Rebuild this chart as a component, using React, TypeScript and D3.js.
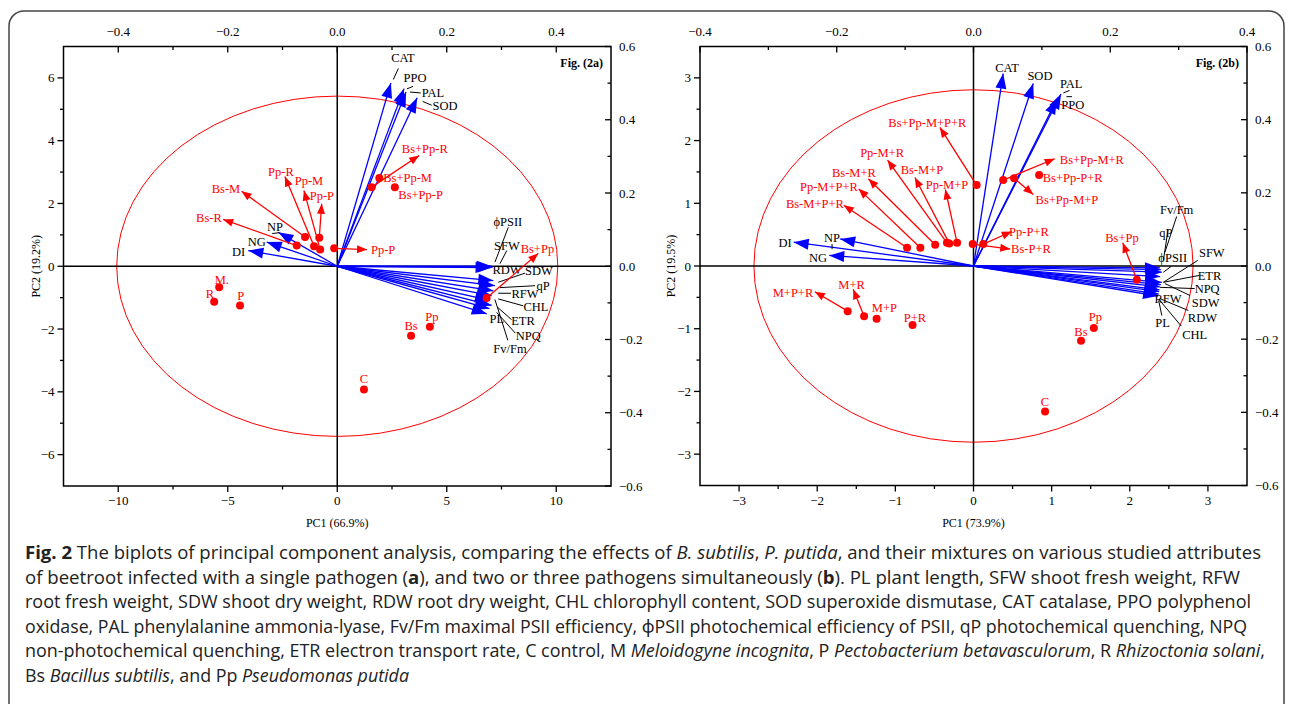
import React from 'react';
import * as d3 from 'd3';

// ---------------- Panel (a) data ----------------
const aVarNames = ['CAT', 'PPO', 'PAL', 'SOD', 'NP', 'NG', 'DI', 'ϕPSII', 'SFW', 'RDW', 'SDW', 'qP', 'RFW', 'CHL', 'ETR', 'PL', 'NPQ', 'Fv/Fm'];
const aVarPC1 = [0.098, 0.122, 0.1256, 0.146, -0.1076, -0.1288, -0.1624, 0.282, 0.28, 0.284, 0.285, 0.288, 0.285, 0.282, 0.279, 0.282, 0.278, 0.273];
const aVarPC2 = [0.5006, 0.485, 0.476, 0.46, 0.0926, 0.066, 0.0429, 0.0, -0.004, -0.002, -0.039, -0.053, -0.067, -0.08, -0.093, -0.107, -0.116, -0.13];
const aVarLabelX = [3.0, 3.55, 4.37, 4.92, -2.84, -3.67, -4.5, 7.79, 7.75, 7.75, 9.21, 9.4, 8.57, 9.07, 8.48, 7.29, 8.72, 7.89];
const aVarLabelY = [6.66, 6.02, 5.54, 5.13, 1.27, 0.77, 0.47, 1.43, 0.66, -0.11, -0.14, -0.62, -0.86, -1.28, -1.74, -1.67, -2.2, -2.62];
const aLeaders = [
  [2.56, 5.95, 2.79, 6.3], [3.18, 5.65, 3.46, 5.73], [3.32, 5.55, 3.81, 5.52], [3.9, 5.25, 4.31, 5.13],
  [-2.97, 1.04, -2.66, 1.07], [7.81, 1.24, 7.2, 0.13], [7.74, 0.5, 7.43, 0.08], [7.35, -0.51, 8.57, -0.22],
  [7.43, -0.68, 9.03, -0.62], [7.35, -0.86, 7.93, -0.86], [7.35, -1.04, 8.49, -1.26], [7.34, -1.32, 7.96, -1.7],
  [7.28, -1.47, 8.13, -2.13], [7.2, -1.06, 7.79, -2.36],
];
const aTreatNames = ['C', 'M.', 'R', 'P', 'Bs', 'Pp', 'Bs+Pp', 'Bs-M', 'Bs-R', 'Pp-R', 'Pp-M', 'Pp-P', 'Pp-P', 'Bs+Pp-R', 'Bs+Pp-M', 'Bs+Pp-P'];
const aTreatPC1 = [1.22, -5.39, -5.62, -4.44, 3.37, 4.23, 6.82, -1.47, -1.85, -1.06, -0.78, -0.82, -0.14, 1.57, 1.92, 2.63];
const aTreatPC2 = [-3.93, -0.67, -1.13, -1.25, -2.21, -1.93, -1.01, 0.93, 0.66, 0.64, 0.53, 0.91, 0.57, 2.52, 2.81, 2.52];
const aTreatTipX = [null, null, null, null, null, null, 9.18, -4.37, -5.21, -2.39, -1.52, -0.71, 1.36, 3.74, null, null];
const aTreatTipY = [null, null, null, null, null, null, 0.41, 2.39, 1.49, 2.86, 2.41, 1.99, 0.53, 3.53, null, null];
const aTreatLabelX = [1.22, -5.27, -5.81, -4.41, 3.37, 4.32, 9.14, -5.08, -5.86, -2.57, -1.29, -0.7, 1.54, 4.0, 2.1, 2.79];
const aTreatLabelY = [-3.59, -0.42, -0.86, -0.93, -1.89, -1.6, 0.57, 2.48, 1.55, 3.02, 2.73, 2.26, 0.53, 3.75, 2.82, 2.29];
const aTreatAnchor = ['m', 'm', 'm', 'm', 'm', 'm', 'm', 'm', 'm', 'm', 'm', 'm', 's', 'm', 's', 's'];

// ---------------- Panel (b) data ----------------
const bVarNames = ['CAT', 'SOD', 'PAL', 'PPO', 'DI', 'NP', 'NG', 'Fv/Fm', 'qP', 'ϕPSII', 'SFW', 'ETR', 'NPQ', 'SDW', 'RDW', 'CHL', 'RFW', 'PL'];
const bVarPC1 = [0.0434, 0.0874, 0.128, 0.122, -0.263, -0.195, -0.211, 0.2726, 0.274, 0.2754, 0.273, 0.2754, 0.274, 0.2726, 0.272, 0.2715, 0.271, 0.27];
const bVarPC2 = [0.526, 0.499, 0.47, 0.456, 0.065, 0.074, 0.029, -0.005, -0.01, -0.017, -0.029, -0.045, -0.051, -0.057, -0.065, -0.07, -0.077, -0.082];
const bVarLabelX = [0.43, 0.85, 1.25, 1.27, -2.41, -1.81, -1.99, 2.6, 2.46, 2.55, 3.05, 3.02, 2.99, 2.97, 2.93, 2.83, 2.49, 2.42];
const bVarLabelY = [3.17, 3.03, 2.91, 2.58, 0.38, 0.46, 0.14, 0.9, 0.54, 0.14, 0.22, -0.15, -0.36, -0.59, -0.82, -1.09, -0.52, -0.91];
const bLeaders = [
  [1.15, 2.76, 1.23, 2.8], [1.19, 2.7, 1.26, 2.7], [2.6, 0.79, 2.45, 0.22], [2.49, 0.58, 2.43, 0.09],
  [2.43, -0.1, 2.53, -0.005], [2.87, 0.09, 2.43, -0.26], [2.89, -0.15, 2.43, -0.26], [2.83, -0.36, 2.385, -0.34],
  [2.77, -0.47, 2.45, -0.28], [2.75, -0.71, 2.385, -0.52], [2.41, -0.79, 2.37, -0.55], [2.66, -0.96, 2.385, -0.55],
  [-1.81, 0.35, -1.81, 0.27],
];
const bTreatNames = ['C', 'Bs', 'Pp', 'M+P+R', 'M+R', 'M+P', 'P+R', 'Bs+Pp', 'Bs+Pp-M+P+R', 'Pp-M+R', 'Bs-M+R', 'Bs-M+P', 'Pp-M+P', 'Pp-M+P+R', 'Bs-M+P+R', 'Pp-P+R', 'Bs-P+R', 'Bs+Pp-M+R', 'Bs+Pp-P+R', 'Bs+Pp-M+P'];
const bTreatPC1 = [0.916, 1.376, 1.54, -1.61, -1.4, -1.24, -0.78, 2.09, 0.04, -0.34, -0.49, -0.31, -0.21, -0.68, -0.85, 0.125, -0.01, 0.38, 0.84, 0.52];
const bTreatPC2 = [-2.32, -1.19, -0.99, -0.72, -0.8, -0.84, -0.94, -0.22, 1.29, 0.37, 0.34, 0.36, 0.37, 0.29, 0.29, 0.35, 0.35, 1.37, 1.45, 1.4];
const bTreatTipX = [null, null, null, -2.03, -1.54, null, null, 1.91, -0.43, -1.1, -1.345, -0.75, -0.36, -1.47, -1.66, 0.49, 0.47, 1.04, null, 0.765];
const bTreatTipY = [null, null, null, -0.41, -0.37, null, null, 0.37, 2.21, 1.69, 1.39, 1.41, 1.22, 1.23, 0.97, 0.55, 0.27, 1.71, null, 1.14];
const bTreatLabelX = [0.915, 1.375, 1.56, -2.31, -1.56, -1.14, -0.75, 1.9, -0.59, -1.17, -1.53, -0.66, -0.34, -1.85, -2.03, 0.71, 0.735, 1.515, 1.27, 1.196];
const bTreatLabelY = [-2.17, -1.05, -0.81, -0.42, -0.29, -0.67, -0.82, 0.46, 2.29, 1.8, 1.49, 1.53, 1.29, 1.26, 1.0, 0.55, 0.27, 1.69, 1.41, 1.06];

// ---------------- Axis ticks ----------------
const aXTicks = [-10, -5, 0, 5, 10];
const aXMinor = [-7.5, -2.5, 2.5, 7.5];
const aYTicks = [-6, -4, -2, 0, 2, 4, 6];
const aYMinor = [-5, -3, -1, 1, 3, 5];
const bXTicks = [-3, -2, -1, 0, 1, 2, 3];
const bXMinor = [-2.5, -1.5, -0.5, 0.5, 1.5, 2.5];
const bYTicks = [-3, -2, -1, 0, 1, 2, 3];
const bYMinor = [-2.5, -1.5, -0.5, 0.5, 1.5, 2.5];
const topTicks = [-0.4, -0.2, 0.0, 0.2, 0.4];
const topMinor = [-0.3, -0.1, 0.1, 0.3];
const rightTicks = [-0.6, -0.4, -0.2, 0.0, 0.2, 0.4, 0.6];
const rightMinor = [-0.5, -0.3, -0.1, 0.1, 0.3, 0.5];

// ---------------- Caption ----------------
const captionLines: [string, string][][] = [
  [['Fig. 2', 'b'], [' The biplots of principal component analysis, comparing the effects of ', ''], ['B. subtilis', 'i'], [', ', ''], ['P. putida', 'i'], [', and their mixtures on various studied attributes', '']],
  [['of beetroot infected with a single pathogen (', ''], ['a', 'b'], ['), and two or three pathogens simultaneously (', ''], ['b', 'b'], ['). PL plant length, SFW shoot fresh weight, RFW', '']],
  [['root fresh weight, SDW shoot dry weight, RDW root dry weight, CHL chlorophyll content, SOD superoxide dismutase, CAT catalase, PPO polyphenol', '']],
  [['oxidase, PAL phenylalanine ammonia-lyase, Fv/Fm maximal PSII efficiency, ϕPSII photochemical efficiency of PSII, qP photochemical quenching, NPQ', '']],
  [['non-photochemical quenching, ETR electron transport rate, C control, M ', ''], ['Meloidogyne incognita', 'i'], [', P ', ''], ['Pectobacterium betavasculorum', 'i'], [', R ', ''], ['Rhizoctonia solani', 'i'], [',', '']],
  [['Bs ', ''], ['Bacillus subtilis', 'i'], [', and Pp ', ''], ['Pseudomonas putida', 'i']],
];
const captionWidths = [1236, 1215, 1226, 1222, 1240, 384];

const SERIF = '"Liberation Serif", "Times New Roman", serif';
const BLUE = '#0000ff';
const RED = '#ff0000';

function headPath(x0: number, y0: number, x1: number, y1: number, L: number, W: number) {
  const dx = x1 - x0, dy = y1 - y0;
  const len = Math.hypot(dx, dy) || 1;
  const ux = dx / len, uy = dy / len;
  const bx = x1 - ux * L, by = y1 - uy * L;
  return `M${x1},${y1}L${bx - uy * W},${by + ux * W}L${bx + uy * W},${by - ux * W}Z`;
}

type Cfg = {
  left: number; right: number; top: number; bottom: number;
  xDom: [number, number]; yDom: [number, number]; lxDom: [number, number]; lyDom: [number, number];
  xTicks: number[]; xMinor: number[]; yTicks: number[]; yMinor: number[];
  ellipseRX: number; ellipseRY: number;
  varNames: string[]; varPC1: number[]; varPC2: number[]; varLX: number[]; varLY: number[]; leaders: number[][];
  tNames: string[]; tPC1: number[]; tPC2: number[]; tTipX: (number | null)[]; tTipY: (number | null)[];
  tLX: number[]; tLY: number[]; tAnchor?: string[];
  xTitle: string; yTitle: string; fig: string; yTitleX: number;
};

function Panel({ c }: { c: Cfg }) {
  const x = d3.scaleLinear().domain(c.xDom).range([c.left, c.right]);
  const y = d3.scaleLinear().domain(c.yDom).range([c.bottom, c.top]);
  const lx = d3.scaleLinear().domain(c.lxDom).range([c.left, c.right]);
  const ly = d3.scaleLinear().domain(c.lyDom).range([c.bottom, c.top]);
  const fmt1 = (v: number) => (Math.abs(v) < 1e-9 ? '0.0' : d3.format('.1f')(v));
  const fmt0 = (v: number) => d3.format('d')(v);
  const x0 = x(0), y0 = y(0);
  const tick = { stroke: '#000', strokeWidth: 1.3 };
  return (
    <g>
      <ellipse cx={x0} cy={y0} rx={x(c.ellipseRX) - x0} ry={y0 - y(c.ellipseRY)} fill="none" stroke={RED} strokeWidth={1} />
      <line x1={c.left} x2={c.right} y1={y0} y2={y0} stroke="#000" strokeWidth={1.5} />
      <line x1={x0} x2={x0} y1={c.top} y2={c.bottom} stroke="#000" strokeWidth={1.5} />
      {c.varNames.map((n, i) => {
        const tx = lx(c.varPC1[i]), ty = ly(c.varPC2[i]);
        return (
          <g key={'v' + i}>
            <line x1={x0} y1={y0} x2={tx} y2={ty} stroke={BLUE} strokeWidth={1.3} />
            <path d={headPath(x0, y0, tx, ty, 15, 5.5)} fill={BLUE} />
          </g>
        );
      })}
      {c.leaders.map((l, i) => (
        <line key={'l' + i} x1={x(l[0])} y1={y(l[1])} x2={x(l[2])} y2={y(l[3])} stroke="#000" strokeWidth={1} />
      ))}
      {c.varNames.map((n, i) => (
        <text key={'vt' + i} x={x(c.varLX[i])} y={y(c.varLY[i])} dy="0.35em" textAnchor="middle"
          fontFamily={SERIF} fontSize={12.5} fill="#000">{n}</text>
      ))}
      {c.tNames.map((n, i) => {
        const px = x(c.tPC1[i]), py = y(c.tPC2[i]);
        const tx = c.tTipX[i], ty = c.tTipY[i];
        return (
          <g key={'t' + i}>
            {tx !== null && ty !== null && (
              <g>
                <line x1={px} y1={py} x2={x(tx)} y2={y(ty)} stroke={RED} strokeWidth={1.3} />
                <path d={headPath(px, py, x(tx), y(ty), 10, 4)} fill={RED} />
              </g>
            )}
            <circle cx={px} cy={py} r={4} fill={RED} />
          </g>
        );
      })}
      {c.tNames.map((n, i) => (
        <text key={'tt' + i} x={x(c.tLX[i])} y={y(c.tLY[i])} dy="0.35em"
          textAnchor={c.tAnchor && c.tAnchor[i] === 's' ? 'start' : 'middle'}
          fontFamily={SERIF} fontSize={12.5} fill={RED}>{n}</text>
      ))}
      <rect x={c.left} y={c.top} width={c.right - c.left} height={c.bottom - c.top} fill="none" stroke="#000" strokeWidth={1.5} />
      {c.xTicks.map((v) => (
        <g key={'bx' + v}>
          <line x1={x(v)} x2={x(v)} y1={c.bottom} y2={c.bottom + 6} {...tick} />
          <text x={x(v)} y={c.bottom + 19} textAnchor="middle" fontFamily={SERIF} fontSize={13}>{fmt0(v)}</text>
        </g>
      ))}
      {c.xMinor.map((v) => (
        <line key={'bxm' + v} x1={x(v)} x2={x(v)} y1={c.bottom} y2={c.bottom + 3.5} {...tick} />
      ))}
      {c.yTicks.map((v) => (
        <g key={'ly' + v}>
          <line x1={c.left - 6} x2={c.left} y1={y(v)} y2={y(v)} {...tick} />
          <text x={c.left - 9} y={y(v)} dy="0.35em" textAnchor="end" fontFamily={SERIF} fontSize={13}>{fmt0(v)}</text>
        </g>
      ))}
      {c.yMinor.map((v) => (
        <line key={'lym' + v} x1={c.left - 3.5} x2={c.left} y1={y(v)} y2={y(v)} {...tick} />
      ))}
      {topTicks.map((v) => (
        <g key={'tx' + v}>
          <line x1={lx(v)} x2={lx(v)} y1={c.top} y2={c.top + 6} {...tick} />
          <text x={lx(v)} y={c.top - 11} textAnchor="middle" fontFamily={SERIF} fontSize={13}>{fmt1(v)}</text>
        </g>
      ))}
      {topMinor.map((v) => (
        <line key={'txm' + v} x1={lx(v)} x2={lx(v)} y1={c.top} y2={c.top + 3.5} {...tick} />
      ))}
      {rightTicks.map((v) => (
        <g key={'ry' + v}>
          <line x1={c.right - 6} x2={c.right} y1={ly(v)} y2={ly(v)} {...tick} />
          <text x={c.right + 8} y={ly(v)} dy="0.35em" textAnchor="start" fontFamily={SERIF} fontSize={13}>{fmt1(v)}</text>
        </g>
      ))}
      {rightMinor.map((v) => (
        <line key={'rym' + v} x1={c.right - 3.5} x2={c.right} y1={ly(v)} y2={ly(v)} {...tick} />
      ))}
      <text x={(c.left + c.right) / 2} y={c.bottom + 41} textAnchor="middle" fontFamily={SERIF} fontSize={12}>{c.xTitle}</text>
      <text transform={`translate(${c.yTitleX},${(c.top + c.bottom) / 2}) rotate(-90)`} textAnchor="middle" dy="0.35em"
        fontFamily={SERIF} fontSize={12}>{c.yTitle}</text>
      <text x={c.right - 8} y={c.top + 20} textAnchor="end" fontFamily={SERIF} fontSize={12} fontWeight="bold">{c.fig}</text>
    </g>
  );
}

const cfgA: Cfg = {
  left: 63.5, right: 611, top: 46.5, bottom: 486,
  xDom: [-12.5, 12.5], yDom: [-7, 7], lxDom: [-0.5, 0.5], lyDom: [-0.6, 0.6],
  xTicks: aXTicks, xMinor: aXMinor, yTicks: aYTicks, yMinor: aYMinor,
  ellipseRX: 10.07, ellipseRY: 5.42,
  varNames: aVarNames, varPC1: aVarPC1, varPC2: aVarPC2, varLX: aVarLabelX, varLY: aVarLabelY, leaders: aLeaders,
  tNames: aTreatNames, tPC1: aTreatPC1, tPC2: aTreatPC2, tTipX: aTreatTipX, tTipY: aTreatTipY,
  tLX: aTreatLabelX, tLY: aTreatLabelY, tAnchor: aTreatAnchor,
  xTitle: 'PC1 (66.9%)', yTitle: 'PC2 (19.2%)', fig: 'Fig. (2a)', yTitleX: 36,
};

const cfgB: Cfg = {
  left: 700, right: 1247, top: 46.5, bottom: 485.5,
  xDom: [-3.5, 3.5], yDom: [-3.5, 3.5], lxDom: [-0.4, 0.4], lyDom: [-0.6, 0.6],
  xTicks: bXTicks, xMinor: bXMinor, yTicks: bYTicks, yMinor: bYMinor,
  ellipseRX: 2.81, ellipseRY: 2.81,
  varNames: bVarNames, varPC1: bVarPC1, varPC2: bVarPC2, varLX: bVarLabelX, varLY: bVarLabelY, leaders: bLeaders,
  tNames: bTreatNames, tPC1: bTreatPC1, tPC2: bTreatPC2, tTipX: bTreatTipX, tTipY: bTreatTipY,
  tLX: bTreatLabelX, tLY: bTreatLabelY,
  xTitle: 'PC1 (73.9%)', yTitle: 'PC2 (19.5%)', fig: 'Fig. (2b)', yTitleX: 671,
};

export default function App() {
  const baseY = 559;
  const lineH = 24.5;
  return (
    <svg width={1290} height={704} style={{ position: 'absolute', left: 0, top: 0, background: '#fff' }}
      xmlns="http://www.w3.org/2000/svg">
      <rect x={0} y={0} width={1290} height={704} fill="#fff" />
      <rect x={9} y={11} width={1275} height={720} rx={15} fill="none" stroke="#444" strokeWidth={1.5} />
      <Panel c={cfgA} />
      <Panel c={cfgB} />
      {captionLines.map((segs, li) => (
        <text key={'c' + li} x={25} y={baseY + li * lineH} fontFamily='"Open Sans", "Noto Sans", sans-serif'
          fontSize={18} fill="#222" textLength={captionWidths[li]} lengthAdjust="spacingAndGlyphs">
          {segs.map((s, si) => (
            <tspan key={si} fontWeight={s[1] === 'b' ? 'bold' : 'normal'} fontStyle={s[1] === 'i' ? 'italic' : 'normal'}>{s[0]}</tspan>
          ))}
        </text>
      ))}
    </svg>
  );
}
